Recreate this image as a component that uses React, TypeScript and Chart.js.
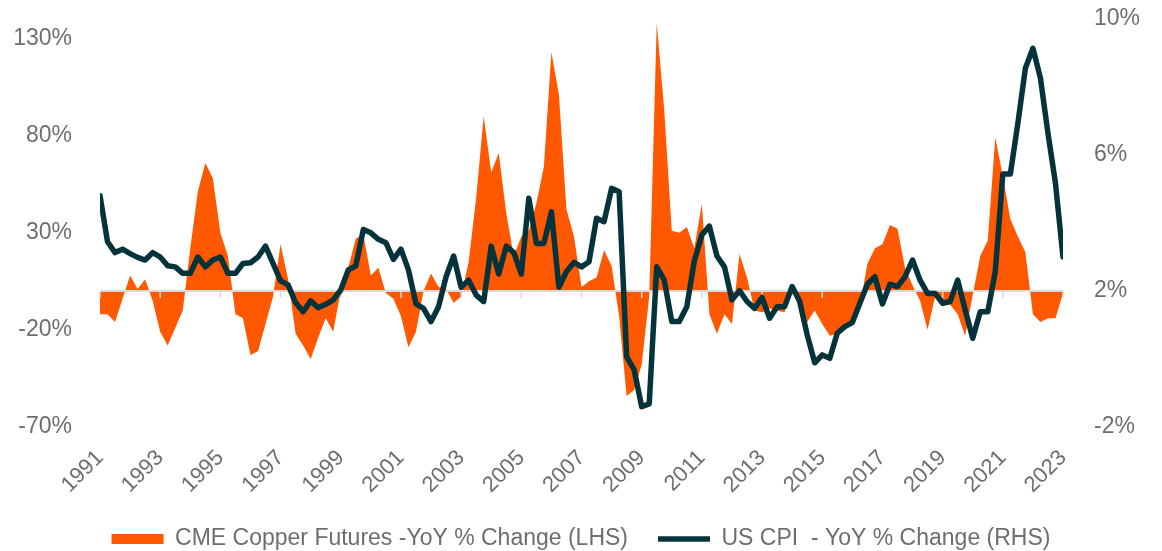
import React, { useEffect, useRef } from 'react';
import { Chart, registerables } from 'chart.js';

Chart.register(...registerables);

// ---------- data ----------
const START_YEAR = 1991; // first quarter of 1991, quarterly observations
const QUARTERS_PER_YEAR = 4;

const YEAR_TICKS = [1991, 1993, 1995, 1997, 1999, 2001, 2003, 2005, 2007, 2009, 2011, 2013, 2015, 2017, 2019, 2021, 2023];
const LEFT_TICKS = [-70, -20, 30, 80, 130];
const RIGHT_TICKS = [-2, 2, 6, 10];

// CME Copper Futures - YoY % change (LHS), quarterly 1991Q1..2023Q1
const COPPER_YOY = [
  -12, -12, -16, -4, 8, 1, 6, -5, -21, -28, -19, -10,
  22, 51, 66, 58, 30, 18, -12, -14, -33, -31, -17, -3,
  24, 6, -22, -28, -35, -24, -14, -21, 0, 12, 27, 29,
  8, 12, -1, -4, -13, -29, -21, 0, 9, 2, 1, -6,
  -3, 15, 48, 90, 61, 71, 40, 18, 28, 31, 45, 64,
  123, 101, 42, 28, 2, 5, 7, 21, 13, -13, -54, -51,
  -38, -3, 138, 93, 31, 30, 33, 22, 45, -12, -22, -12,
  -17, 19, 7, -10, -11, -9, -10, -11, 3, -7, -16, -10,
  -17, -23, -22, -18, -16, -8, 14, 22, 24, 34, 32, 12,
  3, -5, -20, -3, -7, -7, -12, -23, -2, 18, 26, 79,
  59, 37, 28, 20, -12, -16, -14, -14, -1
];

// US CPI - YoY % change (RHS), quarterly 1991Q1..2023Q1
const CPI_YOY = [
  4.8, 3.45, 3.13, 3.23, 3.1, 2.99, 2.91, 3.13, 3.0, 2.74, 2.71, 2.52,
  2.52, 3.0, 2.71, 2.91, 3.0, 2.52, 2.52, 2.81, 2.83, 3.0, 3.32, 2.81,
  2.3, 2.18, 1.66, 1.39, 1.71, 1.51, 1.61, 1.74, 2.03, 2.62, 2.74, 3.81,
  3.71, 3.52, 3.42, 2.93, 3.23, 2.62, 1.62, 1.49, 1.1, 1.54, 2.42, 3.03,
  2.11, 2.32, 1.88, 1.69, 3.32, 2.5, 3.32, 3.13, 2.5, 4.73, 3.4, 3.4,
  4.33, 2.11, 2.57, 2.84, 2.71, 2.86, 4.14, 4.04, 5.02, 4.92, 0.07, -0.32,
  -1.4, -1.32, 2.71, 2.32, 1.1, 1.1, 1.54, 2.89, 3.65, 3.91, 3.03, 2.71,
  1.74, 2.01, 1.69, 1.49, 1.81, 1.2, 1.54, 1.54, 2.13, 1.69, 0.71, -0.11,
  0.12, 0.02, 0.76, 0.95, 1.07, 1.64, 2.2, 2.42, 1.62, 2.2, 2.13, 2.42,
  2.91, 2.32, 1.93, 1.93, 1.64, 1.69, 2.32, 1.44, 0.61, 1.39, 1.39, 2.57,
  5.44, 5.44, 6.93, 8.55, 9.14, 8.26, 6.64, 5.17, 3.0
];

const COPPER_LABEL = 'CME Copper Futures -YoY % Change (LHS)';
const CPI_LABEL = 'US CPI  - YoY % Change (RHS)';

// ---------- styles / layout ----------
const W = 1162;
const H = 551;
const PLOT_LEFT = 100;
const PLOT_RIGHT = 1063;
const PLOT_TOP = 19;
const PLOT_BOTTOM = 427;
const LEGEND_SHIFT = 9.5;

const ORANGE = '#FF5800';
const TEAL = '#05333B';
const TEXT = '#6E6E6E';
const AXIS_GREY = '#D9D9D9';
const FONT = "'Liberation Sans', Arial, Helvetica, sans-serif";

const toPoints = (arr: number[]) =>
  arr.map((v, i) => ({ x: START_YEAR + i / QUARTERS_PER_YEAR, y: v }));

const zeroAxisPlugin = {
  id: 'zeroAxis',
  afterDatasetDraw(chart: any, args: any) {
    if (args.index !== 0) return;
    const { ctx, chartArea, scales } = chart;
    const y0 = scales.y.getPixelForValue(0);
    ctx.save();
    ctx.strokeStyle = AXIS_GREY;
    ctx.lineWidth = 2;
    ctx.beginPath();
    ctx.moveTo(chartArea.left, y0);
    ctx.lineTo(chartArea.right, y0);
    ctx.stroke();
    ctx.lineWidth = 1.5;
    scales.x.ticks.forEach((t: any) => {
      const x = scales.x.getPixelForValue(t.value);
      ctx.beginPath();
      ctx.moveTo(x, y0);
      ctx.lineTo(x, y0 + 7);
      ctx.stroke();
    });
    ctx.restore();
  },
};

const fixVerticalAxis = (width: number) => (s: any) => {
  s.width = width;
  s.paddingTop = 0;
  s.paddingBottom = 0;
};

export default function App() {
  const ref = useRef<HTMLCanvasElement | null>(null);

  useEffect(() => {
    if (!ref.current) return;
    const chart = new Chart(ref.current, {
      type: 'line',
      data: {
        datasets: [
          {
            label: COPPER_LABEL,
            data: toPoints(COPPER_YOY),
            yAxisID: 'y',
            fill: 'origin',
            backgroundColor: ORANGE,
            borderColor: 'rgba(0,0,0,0)',
            borderWidth: 0,
            pointRadius: 0,
            pointStyle: 'rect',
            tension: 0,
            order: 1,
          },
          {
            label: CPI_LABEL,
            data: toPoints(CPI_YOY),
            yAxisID: 'y1',
            fill: false,
            backgroundColor: TEAL,
            borderColor: TEAL,
            borderWidth: 5.5,
            borderJoinStyle: 'round',
            borderCapStyle: 'round',
            pointRadius: 0,
            pointStyle: 'line',
            tension: 0,
            order: 0,
          },
        ],
      },
      options: {
        animation: false,
        responsive: true,
        maintainAspectRatio: false,
        events: [],
        layout: { padding: { top: PLOT_TOP, left: 0, right: 0, bottom: -LEGEND_SHIFT } },
        plugins: {
          tooltip: { enabled: false },
          legend: {
            position: 'bottom',
            labels: {
              usePointStyle: true,
              pointStyleWidth: 52,
              boxHeight: 10,
              padding: 30,
              color: TEXT,
              font: { family: FONT, size: 23 },
              sort: (a: any, b: any) => a.datasetIndex - b.datasetIndex,
            },
          },
        },
        scales: {
          x: {
            type: 'linear',
            min: START_YEAR,
            max: YEAR_TICKS[YEAR_TICKS.length - 1],
            grid: { display: false },
            border: { display: false },
            afterBuildTicks: (s: any) => {
              s.ticks = YEAR_TICKS.map((v) => ({ value: v }));
            },
            afterFit: (s: any) => {
              const lh = s.chart.legend ? s.chart.legend.height : 0;
              s.height = H + LEGEND_SHIFT - lh - PLOT_BOTTOM;
            },
            ticks: {
              autoSkip: false,
              minRotation: 45,
              maxRotation: 45,
              padding: 10,
              color: TEXT,
              font: { family: FONT, size: 22 },
              callback: (v: any) => String(v),
            },
          },
          y: {
            type: 'linear',
            position: 'left',
            min: LEFT_TICKS[0],
            max: 140,
            grid: { display: false },
            border: { display: false },
            afterBuildTicks: (s: any) => {
              s.ticks = LEFT_TICKS.map((v) => ({ value: v }));
            },
            afterFit: fixVerticalAxis(PLOT_LEFT),
            ticks: {
              padding: 20,
              color: TEXT,
              font: { family: FONT, size: 23 },
              callback: (v: any) => v + '%',
            },
          },
          y1: {
            type: 'linear',
            position: 'right',
            min: RIGHT_TICKS[0],
            max: RIGHT_TICKS[RIGHT_TICKS.length - 1],
            grid: { display: false },
            border: { display: false },
            afterBuildTicks: (s: any) => {
              s.ticks = RIGHT_TICKS.map((v) => ({ value: v }));
            },
            afterFit: fixVerticalAxis(W - PLOT_RIGHT),
            ticks: {
              padding: 23,
              color: TEXT,
              font: { family: FONT, size: 23 },
              callback: (v: any) => v + '%',
            },
          },
        },
      },
      plugins: [zeroAxisPlugin],
    } as any);
    return () => chart.destroy();
  }, []);

  return (
    <div style={{ position: 'fixed', left: 0, top: 0, width: W, height: H, background: '#fff' }}>
      <canvas ref={ref} />
    </div>
  );
}
